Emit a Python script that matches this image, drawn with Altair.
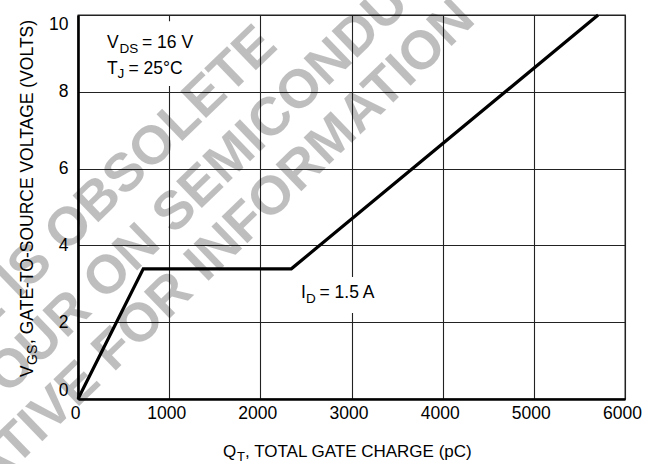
import altair as alt
import pandas as pd

# ---- data ----
charge_pc = [0, 716, 2340, 5705]
vgs_volts = [0, 3.39, 3.39, 10.0]

x_ticks = [0, 1000, 2000, 3000, 4000, 5000, 6000]
y_ticks = [0, 2, 4, 6, 8, 10]

# annotation pieces (text, anchor in data units)
ann_text = ["V", "DS", "= 16 V", "T", "J", "= 25°C", "I", "D", "= 1.5 A"]
ann_q = [318, 318, 318, 318, 318, 318, 2446, 2446, 2446]
ann_v = [9.14, 9.14, 9.14, 8.46, 8.46, 8.46, 2.63, 2.63, 2.63]
ann_dx = [0, 12.5, 35, 0, 10.5, 21.5, 0, 5, 18.5]
ann_dy = [0, 5, 0, 0, 4, 0, 0, 5, 0]
ann_sub = [False, True, False, False, True, False, False, True, False]

# white label boxes (data units)
box_q1 = [219, 2391]
box_q2 = [1338, 3313]
box_v1 = [9.84, 3.18]
box_v2 = [8.15, 2.24]

# watermark lines (right end anchor, data units)
wm_text = ["THIS DEVICE IS OBSOLETE",
           "CONTACT YOUR ON SEMICONDUCTOR",
           "REPRESENTATIVE FOR INFORMATION"]
wm_q = [2084, 4728, 4256]
wm_v = [9.45, 13.28, 10.13]

FONT = "Liberation Sans, Arial, sans-serif"
BIG = 17.5
SUB = 13.5

W, H = 547, 384

xs = alt.Scale(domain=[0, 6000], nice=False)
ys = alt.Scale(domain=[0, 10], nice=False)

line_df = pd.DataFrame({"q": charge_pc, "v": vgs_volts})
box_df = pd.DataFrame({"q1": box_q1, "q2": box_q2, "v1": box_v1, "v2": box_v2})
wm_df = pd.DataFrame({"t": wm_text, "q": wm_q, "v": wm_v})

x_axis = alt.Axis(values=x_ticks, title=None, grid=True, ticks=False, format="d",
                  labelPadding=5, labelOffset=-3, labelFlush=False)
y_axis = alt.Axis(values=y_ticks, title=None, grid=True, ticks=False, format="d",
                  labelPadding=10, labelFlush=True)

boxes = alt.Chart(box_df).mark_rect(color="white").encode(
    x=alt.X("q1:Q", scale=xs, axis=x_axis),
    x2="q2:Q",
    y=alt.Y("v1:Q", scale=ys, axis=y_axis),
    y2="v2:Q",
)

watermark = alt.Chart(wm_df).mark_text(
    font="Liberation Sans", fontWeight="bold", fontSize=54, angle=316,
    align="right", baseline="middle", color="black", opacity=0.25
).encode(x=alt.X("q:Q", scale=xs), y=alt.Y("v:Q", scale=ys), text="t:N")

line = alt.Chart(line_df).mark_line(color="black", strokeWidth=3.2,
                                    strokeJoin="miter").encode(
    x=alt.X("q:Q", scale=xs),
    y=alt.Y("v:Q", scale=ys),
)

layers = [boxes, watermark, line]

for i, t in enumerate(ann_text):
    d = pd.DataFrame({"q": [ann_q[i]], "v": [ann_v[i]], "t": [t]})
    layers.append(
        alt.Chart(d).mark_text(
            font=FONT, fontSize=SUB if ann_sub[i] else BIG, align="left",
            baseline="alphabetic", dx=ann_dx[i], dy=ann_dy[i], color="black"
        ).encode(x=alt.X("q:Q", scale=xs), y=alt.Y("v:Q", scale=ys), text="t:N")
    )

# axis titles with subscripts (pixel positions relative to the plot area)
title_text = ["Q", "T", ", TOTAL GATE CHARGE (pC)",
              "V", "GS", ", GATE-TO-SOURCE VOLTAGE (VOLTS)"]
title_px = [145, 159, 167, -45, -41.5, -45]
title_py = [442, 446, 442, 362, 350, 329]
title_ang = [0, 0, 0, 270, 270, 270]
title_size = [17, 13, 17, 17.5, 14, 17.5]

for i, t in enumerate(title_text):
    d = pd.DataFrame({"t": [t]})
    layers.append(
        alt.Chart(d).mark_text(
            font=FONT, fontSize=title_size[i], align="left",
            baseline="alphabetic", angle=title_ang[i], color="black"
        ).encode(x=alt.value(title_px[i]), y=alt.value(title_py[i]), text="t:N")
    )

chart = alt.layer(*layers).properties(
    width=W, height=H,
    background="white",
    padding={"left": 78, "top": 15, "right": 23, "bottom": 65},
    autosize=alt.AutoSizeParams(type="none"),
).configure_axis(
    gridColor="#222222", gridWidth=1.1, gridOpacity=1,
    domainColor="black", domainWidth=2.6,
    labelFont=FONT, labelFontSize=17.5, labelColor="black",
).configure_view(stroke="#222222", strokeWidth=1.3)

chart.save("out.html", embed_options={"renderer": "svg", "actions": False})
